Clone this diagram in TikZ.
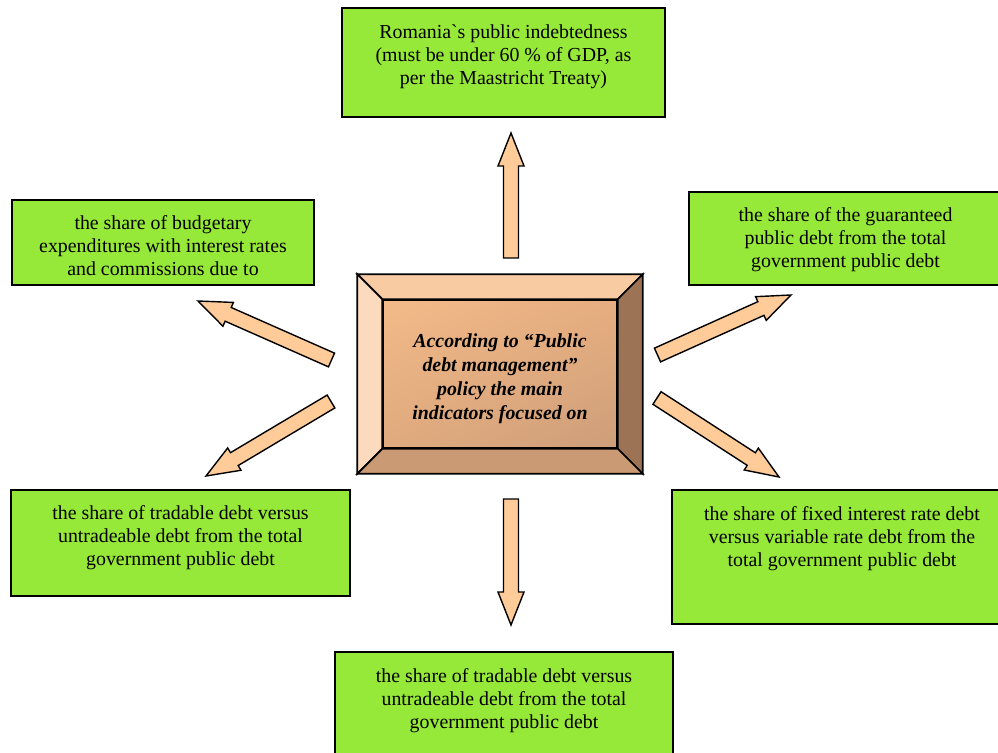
\documentclass[tikz,border=0pt]{standalone}
\usepackage{fontspec}
\setmainfont{Liberation Serif}[Ligatures=TeXOff]
\usetikzlibrary{calc,positioning,shadings}
\definecolor{boxgreen}{RGB}{150,233,56}
\definecolor{peach}{RGB}{255,204,153}
\definecolor{bevtop}{RGB}{249,203,162}
\definecolor{bevleft}{RGB}{251,218,190}
\definecolor{bevright}{RGB}{156,116,85}
\definecolor{bevbottom}{RGB}{201,154,115}
\definecolor{hubul}{RGB}{243,186,137}
\definecolor{hubur}{RGB}{230,174,128}
\definecolor{hubll}{RGB}{224,170,126}
\definecolor{hublr}{RGB}{205,158,122}

\begin{document}
\begin{tikzpicture}[x=0.02cm,y=-0.02cm,
    box/.style={draw,line width=1pt,fill=boxgreen,inner sep=0pt},
    txt/.style={align=center,inner sep=0pt,font=\fontsize{11.3}{13.1}\selectfont},
    arr/.style={draw,line width=0.8pt,fill=peach,line join=miter}]
  \useasboundingbox (0,0) rectangle (998,753);
  \clip (0,0) rectangle (998,753);

  % indicator boxes
  \node[box,minimum width=6.46cm,minimum height=2.18cm] (treaty) at (503.5,62.5) {};
  \node[txt,below=0.35cm of treaty.north] (treatytxt) {Romania`s public indebtedness\\(must be under 60 \% of GDP, as\\per the Maastricht Treaty)};

  \node[box,minimum width=6.04cm,minimum height=1.7cm] (budget) at (163,242.5) {};
  \node[txt,below=0.33cm of budget.north] (budgettxt) {the share of budgetary\\expenditures with interest rates\\and commissions due to};

  \node[box,minimum width=6.26cm,minimum height=1.86cm] (guar) at (845.5,238.5) {};
  \node[txt,below=0.33cm of guar.north] (guartxt) {the share of the guaranteed\\public debt from the total\\government public debt};

  \node[box,minimum width=6.78cm,minimum height=2.12cm] (tradeL) at (180.5,543) {};
  \node[txt,below=0.33cm of tradeL.north] (tradeLtxt) {the share of tradable debt versus\\untradeable debt from the total\\government public debt};

  \node[box,minimum width=6.8cm,minimum height=2.68cm] (fixed) at (842,557) {};
  \node[txt,below=0.35cm of fixed.north] (fixedtxt) {the share of fixed interest rate debt\\versus variable rate debt from the\\total government public debt};

  \node[box,minimum width=6.76cm,minimum height=2.16cm] (tradeB) at (504,706) {};
  \node[txt,below=0.35cm of tradeB.north] (tradeBtxt) {the share of tradable debt versus\\untradeable debt from the total\\government public debt};

  % bevelled centre box
  \node[draw,line width=1pt,minimum width=4.68cm,minimum height=2.96cm,
        upper left=hubul,upper right=hubur,lower left=hubll,lower right=hublr] (hub) at (500,374) {};
  \node[txt,font=\fontsize{11.3}{13.7}\selectfont\bfseries\itshape] (hubtxt) at ([yshift=-0.1cm]hub.center)
        {According to “Public\\debt management”\\policy the main\\indicators focused on};
  \coordinate (onw) at ($(hub.north west)+(-25,-25)$);
  \coordinate (one) at ($(hub.north east)+(25,-25)$);
  \coordinate (osw) at ($(hub.south west)+(-25,25)$);
  \coordinate (ose) at ($(hub.south east)+(25,25)$);
  \draw[line width=1pt,fill=bevtop] (onw) -- (one) -- (hub.north east) -- (hub.north west) -- cycle;
  \draw[line width=1pt,fill=bevleft] (onw) -- (hub.north west) -- (hub.south west) -- (osw) -- cycle;
  \draw[line width=1pt,fill=bevright] (one) -- (ose) -- (hub.south east) -- (hub.north east) -- cycle;
  \draw[line width=1pt,fill=bevbottom] (osw) -- (hub.south west) -- (hub.south east) -- (ose) -- cycle;

  % block arrows, tail/tip
  \foreach \tx/\ty/\hx/\hy [count=\i] in {511/258/511/133, 511/499/511/625, 331.5/360/198/301,
      331/401.5/206/476, 657.5/355/791/295, 657/398/779/477}{
    \coordinate (tail\i) at (\tx,\ty);
    \coordinate (tip\i) at (\hx,\hy);
    \coordinate (neck\i) at ($(tip\i)!0.66cm!(tail\i)$);
    \draw[arr] ($(tail\i)!0.15cm!90:(tip\i)$) -- ($(neck\i)!0.15cm!-90:(tail\i)$) -- ($(neck\i)!0.26cm!-90:(tail\i)$)
      -- (tip\i) -- ($(neck\i)!0.26cm!90:(tail\i)$) -- ($(neck\i)!0.15cm!90:(tail\i)$) -- ($(tail\i)!0.15cm!-90:(tip\i)$) -- cycle;
  }
\end{tikzpicture}
\end{document}
